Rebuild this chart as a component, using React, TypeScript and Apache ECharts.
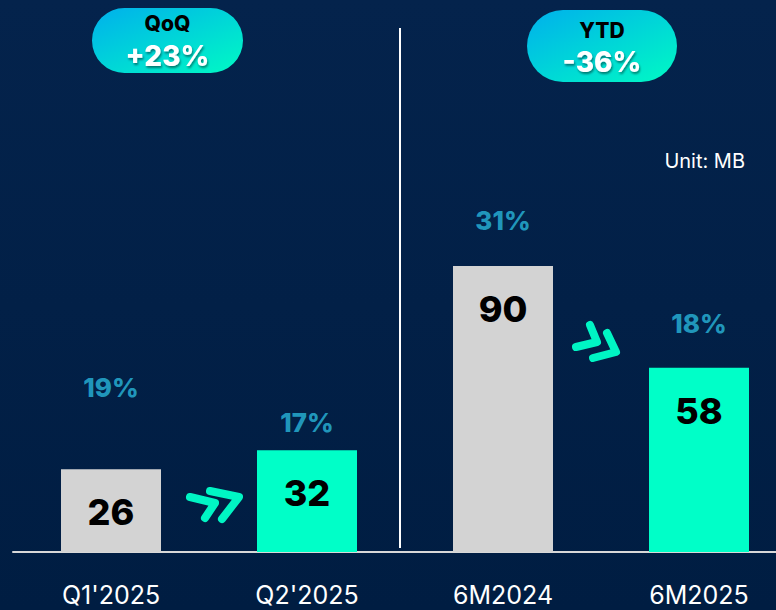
import React, { useEffect, useRef } from "react";
import * as echarts from "echarts";

const categories = ["Q1'2025", "Q2'2025", "6M2024", "6M2025"];
const values = [26, 32, 90, 58];
const shares = ["19%", "17%", "31%", "18%"];
// height (in MB units) at which each share label is centred
const shareLabelLevel = [51.6, 40.6, 104.4, 72];
const barColors = ["#d3d3d3", "#00ffc8", "#d3d3d3", "#00ffc8"];
const badges = [
  { title: "QoQ", change: "+23%" },
  { title: "YTD", change: "-36%" },
];
const unitText = "Unit: MB";

const FONT = "Inter, 'Noto Sans', sans-serif";

function pill(x: number, y: number, w: number, h: number, title: string, change: string, tY: number, cY: number) {
  return {
    type: "group",
    children: [
      {
        type: "rect",
        shape: { x, y, width: w, height: h, r: h / 2 },
        style: {
          fill: new echarts.graphic.LinearGradient(0, 0, 1, 1, [
            { offset: 0, color: "#00b0ec" },
            { offset: 1, color: "#00fac4" },
          ]),
        },
      },
      {
        type: "text",
        x: x + w / 2,
        y: tY,
        style: {
          text: title,
          fill: "#000",
          font: `800 21px ${FONT}`,
          align: "center",
          verticalAlign: "middle",
        },
      },
      {
        type: "text",
        x: x + w / 2,
        y: cY,
        style: {
          text: change,
          fill: "#fff",
          font: `800 28px ${FONT}`,
          align: "center",
          verticalAlign: "middle",
          textShadowColor: "rgba(0,0,0,0.45)",
          textShadowBlur: 2,
          textShadowOffsetX: 1,
          textShadowOffsetY: 2,
        },
      },
    ],
  };
}

function chevron(points: number[][]) {
  return {
    type: "polyline",
    shape: { points },
    style: { stroke: "#00f5c4", lineWidth: 8, lineCap: "round", lineJoin: "round", fill: "none" },
  };
}

export default function App() {
  const ref = useRef<HTMLDivElement>(null);
  useEffect(() => {
    if (!ref.current) return;
    const chart = echarts.init(ref.current, null, { renderer: "svg" });
    chart.setOption({
      animation: false,
      backgroundColor: new echarts.graphic.LinearGradient(0, 0, 0, 1, [
        { offset: 0, color: "#04234c" },
        { offset: 1, color: "#001d42" },
      ]),
      grid: { left: 13, width: 784, top: 107, bottom: 58 },
      xAxis: {
        type: "category",
        data: categories,
        axisLine: { show: true, lineStyle: { color: "#d8d8d8", width: 2 } },
        axisTick: { show: false },
        axisLabel: { color: "#ffffff", fontSize: 25, fontFamily: FONT, margin: 30 },
      },
      yAxis: { type: "value", min: 0, max: 140, show: false, splitLine: { show: false } },
      series: [
        {
          type: "bar",
          barWidth: 100,
          data: values.map((v, i) => ({ value: v, itemStyle: { color: barColors[i] } })),
          label: {
            show: true,
            position: "insideTop",
            distance: 25,
            color: "#000",
            fontSize: 36,
            fontWeight: 800,
            fontFamily: FONT,
          },
          z: 2,
        },
        {
          type: "scatter",
          symbolSize: 1,
          itemStyle: { color: "rgba(0,0,0,0)" },
          data: shareLabelLevel.map((v, i) => ({ value: v, label: { formatter: shares[i] } })),
          label: {
            show: true,
            position: "inside",
            color: "#29b8dc",
            fontSize: 26,
            fontWeight: 800,
            fontFamily: FONT,
          },
        },
      ],
      graphic: [
        {
          type: "line",
          shape: { x1: 400, y1: 28, x2: 400, y2: 548 },
          style: { stroke: "#ffffff", lineWidth: 2 },
        },
        pill(92, 8, 151, 65, badges[0].title, badges[0].change, 23, 56),
        pill(527, 10, 150, 72, badges[1].title, badges[1].change, 30, 62),
        {
          type: "text",
          x: 745,
          y: 161,
          style: { text: unitText, fill: "#fff", font: `20px ${FONT}`, align: "right", verticalAlign: "middle" },
        },
        chevron([[190, 497], [215, 503], [205, 518]]),
        chevron([[210, 491], [239, 497], [222, 519]]),
        chevron([[590, 325], [597, 342], [576, 347]]),
        chevron([[607, 333], [616, 352], [593, 358]]),
      ],
    });
    return () => chart.dispose();
  }, []);
  return (
    <div style={{ position: "fixed", left: 0, top: 0, width: 776, height: 610, overflow: "hidden" }}>
      <div ref={ref} style={{ width: 800, height: 610 }} />
    </div>
  );
}
